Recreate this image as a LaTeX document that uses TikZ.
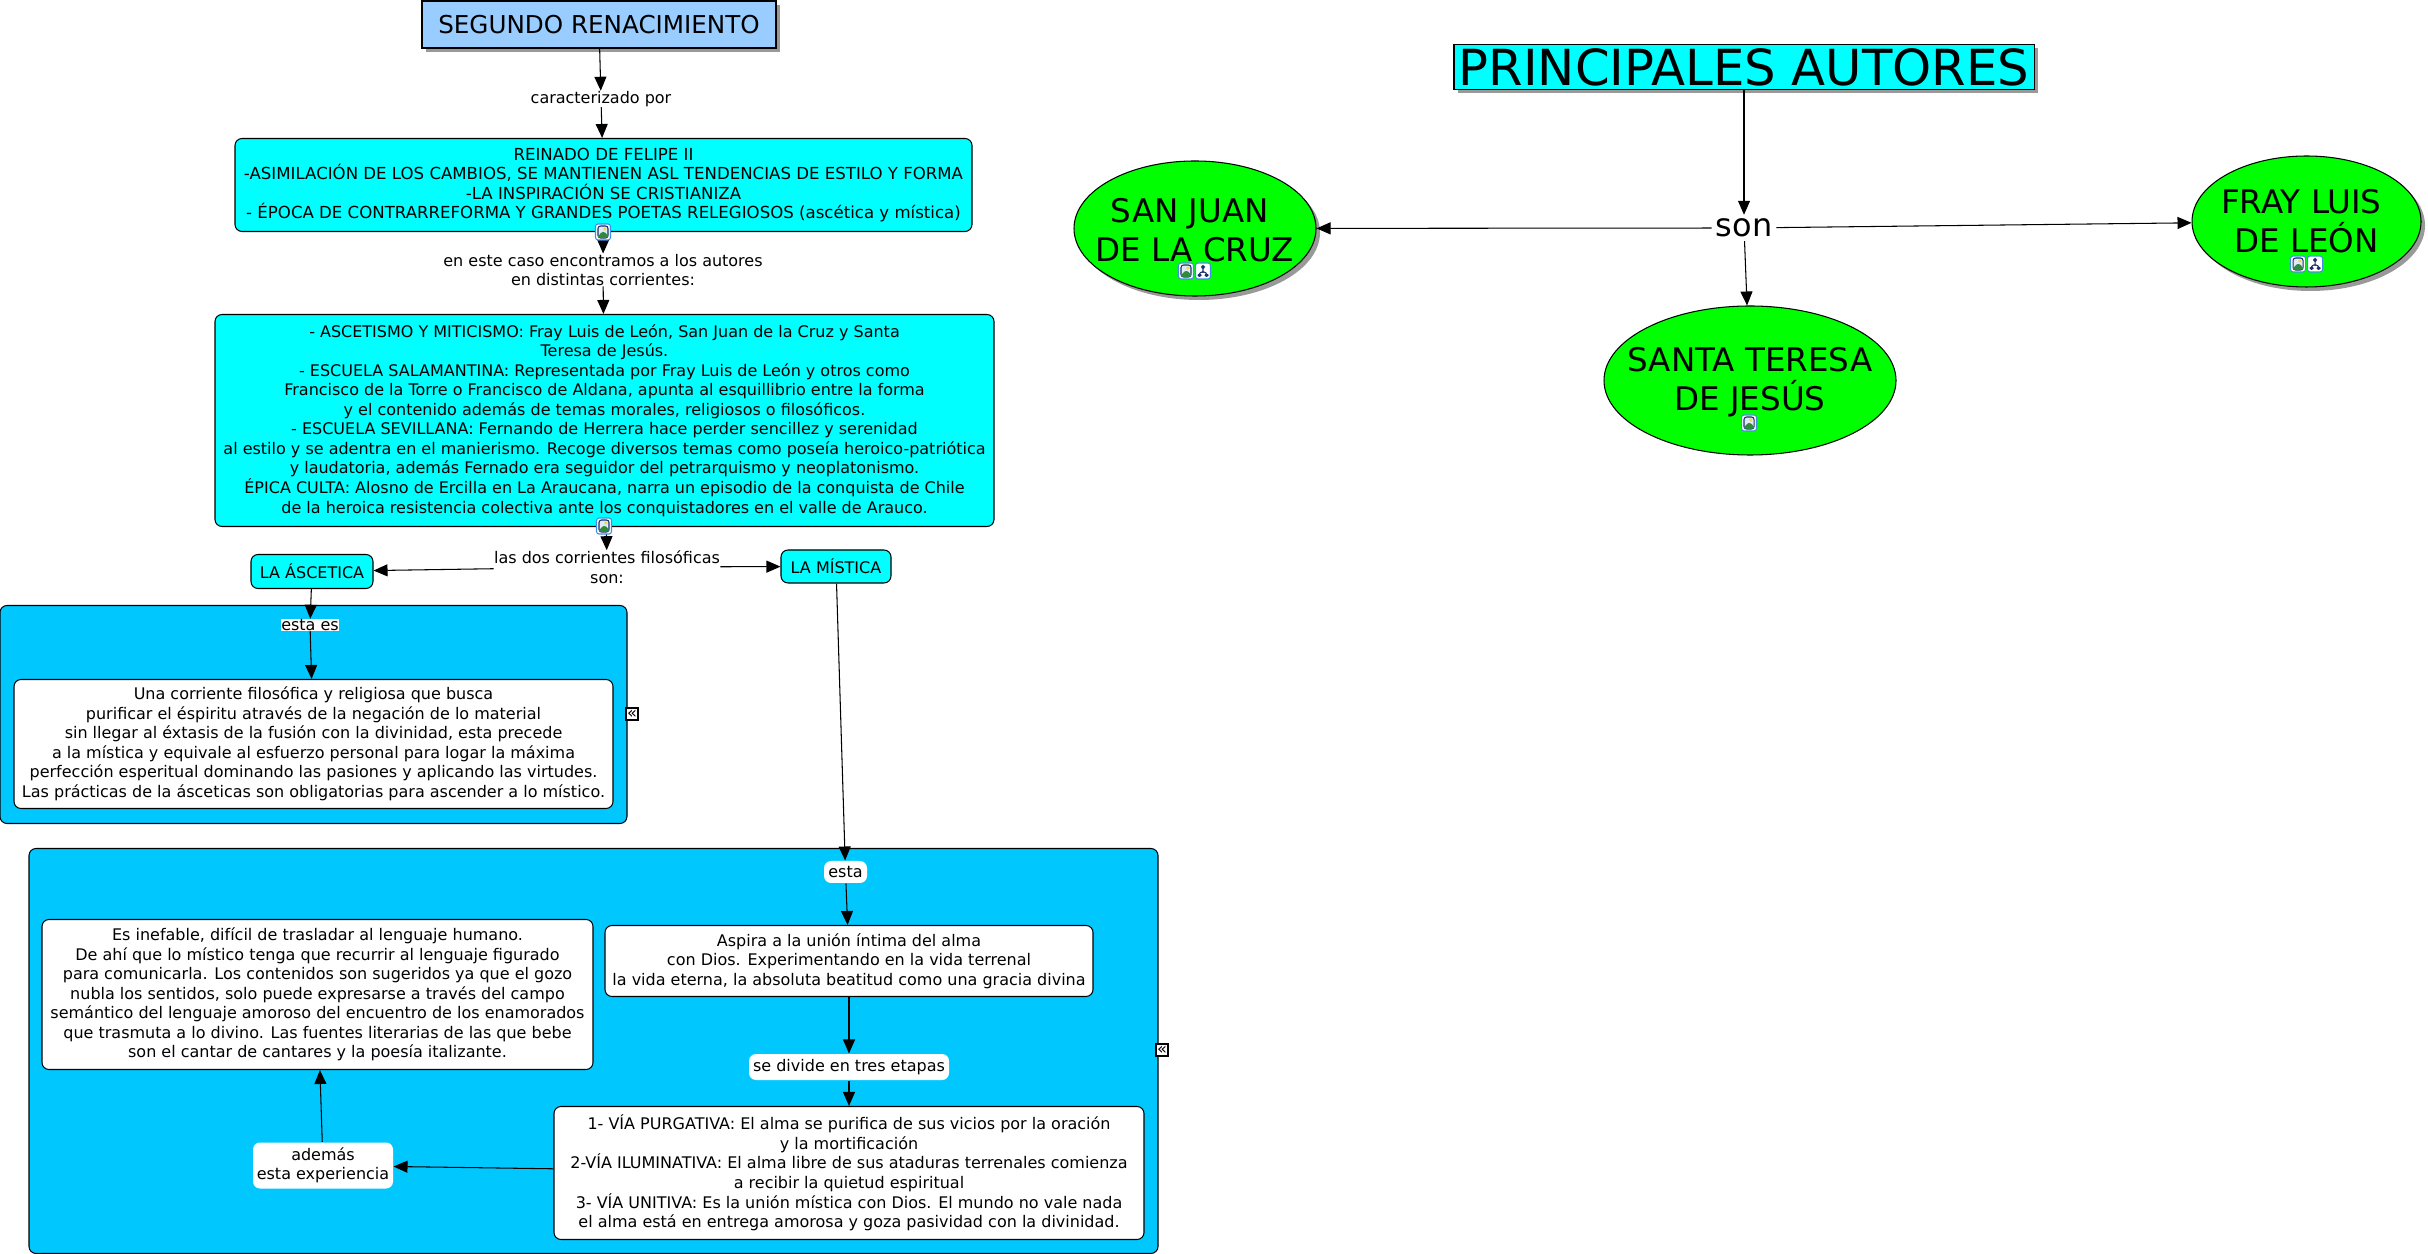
\documentclass[tikz,border=0pt]{standalone}
\usepackage{fontspec}
\setmainfont{DejaVu Sans}
\usetikzlibrary{arrows.meta,shapes.geometric,shadows}

\definecolor{headblue}{HTML}{99CCFF}
\definecolor{panelblue}{HTML}{00C8FF}
\definecolor{boxcyan}{HTML}{00FFFF}
\definecolor{authorgreen}{HTML}{00FF00}
\definecolor{iconframe}{HTML}{3F8FE8}
\definecolor{iconnavy}{HTML}{1B2F6B}
\definecolor{iconsky}{HTML}{DCEBF7}
\definecolor{iconsun}{HTML}{F2D64B}
\definecolor{iconhill}{HTML}{2E8B3D}

\tikzset{
    >={Triangle[length=0.14cm,width=0.12cm]},
    every path/.style={line width=0.3pt},
    textsmall/.style={font=\fontsize{4.55}{5.55}\selectfont,align=center,inner sep=0pt},
    cyanbox/.style={textsmall,draw,fill=boxcyan,rounded corners=0.07cm},
    whitebox/.style={textsmall,draw,fill=white,rounded corners=0.07cm},
    panel/.style={draw,fill=panelblue,rounded corners=0.07cm,inner sep=0pt},
    linkwhite/.style={textsmall,fill=white,rounded corners=0.07cm},
    linkplain/.style={textsmall,fill=white},
    author/.style={ellipse,draw,fill=authorgreen,inner sep=0pt},
    authortext/.style={inner sep=0pt,align=center,font=\fontsize{9.25}{11.1}\selectfont},
    softshadow/.style={drop shadow={shadow xshift=0.04cm,shadow yshift=-0.04cm,fill=black!40,opacity=1}},
    iconbase/.style={draw=iconframe,fill=white,rounded corners=0.025cm,minimum width=0.15cm,minimum height=0.16cm,inner sep=0pt},
    imgicon/.style={iconbase,
        path picture={\draw[shift={(path picture bounding box.center)},draw=iconnavy,fill=iconsky] (-0.05,-0.06) rectangle (0.05,0.06);
            \fill[shift={(path picture bounding box.center)},iconsun] (0.018,0.03) circle (0.018);
            \fill[shift={(path picture bounding box.center)},iconhill] (-0.05,-0.06) -- (0.05,-0.06) -- (0.05,-0.03) -- (0,0.01) -- (-0.05,-0.04) -- cycle;}},
    mapicon/.style={iconbase,
        path picture={\draw[shift={(path picture bounding box.center)},iconnavy] (0,0.03) -- (0,-0.02) (-0.035,-0.03) -- (-0.035,-0.01) -- (0.035,-0.01) -- (0.035,-0.03);
            \fill[shift={(path picture bounding box.center)},iconnavy] (-0.02,0.02) rectangle (0.02,0.06);
            \fill[shift={(path picture bounding box.center)},iconnavy] (-0.055,-0.06) rectangle (-0.015,-0.025);
            \fill[shift={(path picture bounding box.center)},iconnavy] (0.015,-0.06) rectangle (0.055,-0.025);}},
    foldmark/.style={draw,fill=white,inner sep=0pt,minimum width=0.12cm,minimum height=0.12cm,font=\fontsize{4.6}{4.6}\selectfont}
}

\begin{document}
\begin{tikzpicture}
    \useasboundingbox (0,0) rectangle (24.28,-12.54);

    % Panels behind the nodes
    \node[panel,minimum width=6.27cm,minimum height=2.18cm] (panelasc) at (3.135,-7.145) {};
    \node[panel,minimum width=11.29cm,minimum height=4.05cm] (panelmis) at (5.935,-10.51) {};
    \node[foldmark] (foldasc) at (6.32,-7.14) {«};
    \node[foldmark] (foldmis) at (11.62,-10.50) {«};

    % Top of the left map
    \node[draw,fill=headblue,softshadow,minimum width=3.54cm,minimum height=0.47cm,inner sep=0pt,font=\fontsize{7}{8}\selectfont] (segundo) at (5.99,-0.245) {SEGUNDO RENACIMIENTO};
    \node[linkplain] (caract) at (6.01,-0.99) {caracterizado por};
    \draw[->] (segundo) -- (caract);

    \node[cyanbox,minimum width=7.37cm,minimum height=0.93cm,font=\fontsize{4.72}{5.55}\selectfont] (felipe) at (6.035,-1.85) {REINADO DE FELIPE II\\-ASIMILACIÓN DE LOS CAMBIOS, SE MANTIENEN ASL TENDENCIAS DE ESTILO Y FORMA\\-LA INSPIRACIÓN SE CRISTIANIZA\\- ÉPOCA DE CONTRARREFORMA Y GRANDES POETAS RELEGIOSOS (ascética y mística)};
    \draw[->] (caract) -- (felipe);

    \node[linkplain] (autores) at (6.03,-2.70) {en este caso encontramos a los autores\\en distintas corrientes:};
    \draw[->] (felipe) -- (autores);

    % Corrientes
    \node[cyanbox,minimum width=7.79cm,minimum height=2.12cm] (corrientes) at (6.045,-4.205) {- ASCETISMO Y MITICISMO: Fray Luis de León, San Juan de la Cruz y Santa\\Teresa de Jesús.\\- ESCUELA SALAMANTINA: Representada por Fray Luis de León y otros como\\Francisco de la Torre o Francisco de Aldana, apunta al esquillibrio entre la forma\\y el contenido además de temas morales, religiosos o filosóficos.\\- ESCUELA SEVILLANA: Fernando de Herrera hace perder sencillez y serenidad\\al estilo y se adentra en el manierismo. Recoge diversos temas como poseía heroico-patriótica\\y laudatoria, además Fernado era seguidor del petrarquismo y neoplatonismo.\\ÉPICA CULTA: Alosno de Ercilla en La Araucana, narra un episodio de la conquista de Chile\\de la heroica resistencia colectiva ante los conquistadores en el valle de Arauco.};
    \draw[->] (autores) -- (corrientes);

    \node[linkplain] (dos) at (6.07,-5.67) {las dos corrientes filosóficas\\son:};
    \draw[->] (corrientes) -- (dos);

    \node[cyanbox,minimum width=1.22cm,minimum height=0.34cm] (ascetica) at (3.12,-5.715) {LA ÁSCETICA};
    \node[cyanbox,minimum width=1.10cm,minimum height=0.33cm] (mistica) at (8.36,-5.665) {LA MÍSTICA};
    \draw[->] (dos) -- (ascetica);
    \draw[->] (dos) -- (mistica);

    % Ascetica panel
    \node[linkplain] (estaes) at (3.10,-6.25) {esta es};
    \draw[->] (ascetica) -- (estaes);
    \node[whitebox,minimum width=5.99cm,minimum height=1.29cm] (defasc) at (3.135,-7.44) {Una corriente filosófica y religiosa que busca\\purificar el éspiritu através de la negación de lo material\\sin llegar al éxtasis de la fusión con la divinidad, esta precede\\a la mística y equivale al esfuerzo personal para logar la máxima\\perfección esperitual dominando las pasiones y aplicando las virtudes.\\Las prácticas de la ásceticas son obligatorias para ascender a lo místico.};
    \draw[->] (estaes) -- (defasc);

    % Mistica panel
    \node[linkwhite,minimum width=0.43cm,minimum height=0.22cm] (esta) at (8.455,-8.72) {esta};
    \draw[->] (mistica) -- (esta);
    \node[whitebox,minimum width=4.88cm,minimum height=0.71cm] (aspira) at (8.49,-9.61) {Aspira a la unión íntima del alma\\con Dios. Experimentando en la vida terrenal\\la vida eterna, la absoluta beatitud como una gracia divina};
    \draw[->] (esta) -- (aspira);
    \node[linkwhite,minimum width=2.00cm,minimum height=0.26cm] (divide) at (8.49,-10.67) {se divide en tres etapas};
    \draw[->] (aspira) -- (divide);
    \node[whitebox,minimum width=5.90cm,minimum height=1.33cm] (vias) at (8.49,-11.73) {1- VÍA PURGATIVA: El alma se purifica de sus vicios por la oración\\y la mortificación\\2-VÍA ILUMINATIVA: El alma libre de sus ataduras terrenales comienza\\a recibir la quietud espiritual\\3- VÍA UNITIVA: Es la unión mística con Dios. El mundo no vale nada\\el alma está en entrega amorosa y goza pasividad con la divinidad.};
    \draw[->] (divide) -- (vias);
    \node[linkwhite,minimum width=1.40cm,minimum height=0.46cm] (ademas) at (3.23,-11.655) {además\\esta experiencia};
    \draw[->] (vias) -- (ademas);
    \node[whitebox,minimum width=5.51cm,minimum height=1.50cm] (inefable) at (3.175,-9.945) {Es inefable, difícil de trasladar al lenguaje humano.\\De ahí que lo místico tenga que recurrir al lenguaje figurado\\para comunicarla. Los contenidos son sugeridos ya que el gozo\\nubla los sentidos, solo puede expresarse a través del campo\\semántico del lenguaje amoroso del encuentro de los enamorados\\que trasmuta a lo divino. Las fuentes literarias de las que bebe\\son el cantar de cantares y la poesía italizante.};
    \draw[->] (ademas) -- (inefable);

    % Right map
    \node[draw,fill=boxcyan,softshadow,minimum width=5.80cm,minimum height=0.45cm,inner sep=0pt,font=\fontsize{14.15}{15}\selectfont] (principales) at (17.44,-0.67) {PRINCIPALES AUTORES};
    \node[fill=white,inner sep=1pt,font=\fontsize{9.1}{11.1}\selectfont] (son) at (17.44,-2.28) {son};
    \draw[->] (principales) -- (son);

    \node[author,softshadow,minimum width=2.42cm,minimum height=1.35cm,label={[authortext,yshift=-0.015cm]center:{SAN JUAN\ \ \\DE LA CRUZ}}] (sanjuan) at (11.95,-2.285) {};
    \node[author,softshadow,minimum width=2.29cm,minimum height=1.31cm,label={[authortext]center:{FRAY LUIS\ \ \\DE LEÓN}}] (fray) at (23.065,-2.215) {};
    \node[author,minimum width=2.92cm,minimum height=1.49cm,label={[authortext,yshift=-0.02cm]center:{SANTA TERESA\\DE JESÚS}}] (teresa) at (17.50,-3.805) {};
    \draw[->] (son) -- (sanjuan);
    \draw[->] (son) -- (fray);
    \draw[->] (son) -- (teresa);

    % Resource icons
    \node[imgicon] (icfelipe) at (6.03,-2.32) {};
    \node[imgicon] (iccorr) at (6.04,-5.26) {};
    \node[imgicon] (icjuan) at (11.86,-2.71) {};
    \node[mapicon] (mapjuan) at (12.03,-2.71) {};
    \node[imgicon] (icfray) at (22.98,-2.64) {};
    \node[mapicon] (mapfray) at (23.15,-2.64) {};
    \node[imgicon] (icteresa) at (17.49,-4.23) {};
\end{tikzpicture}
\end{document}
